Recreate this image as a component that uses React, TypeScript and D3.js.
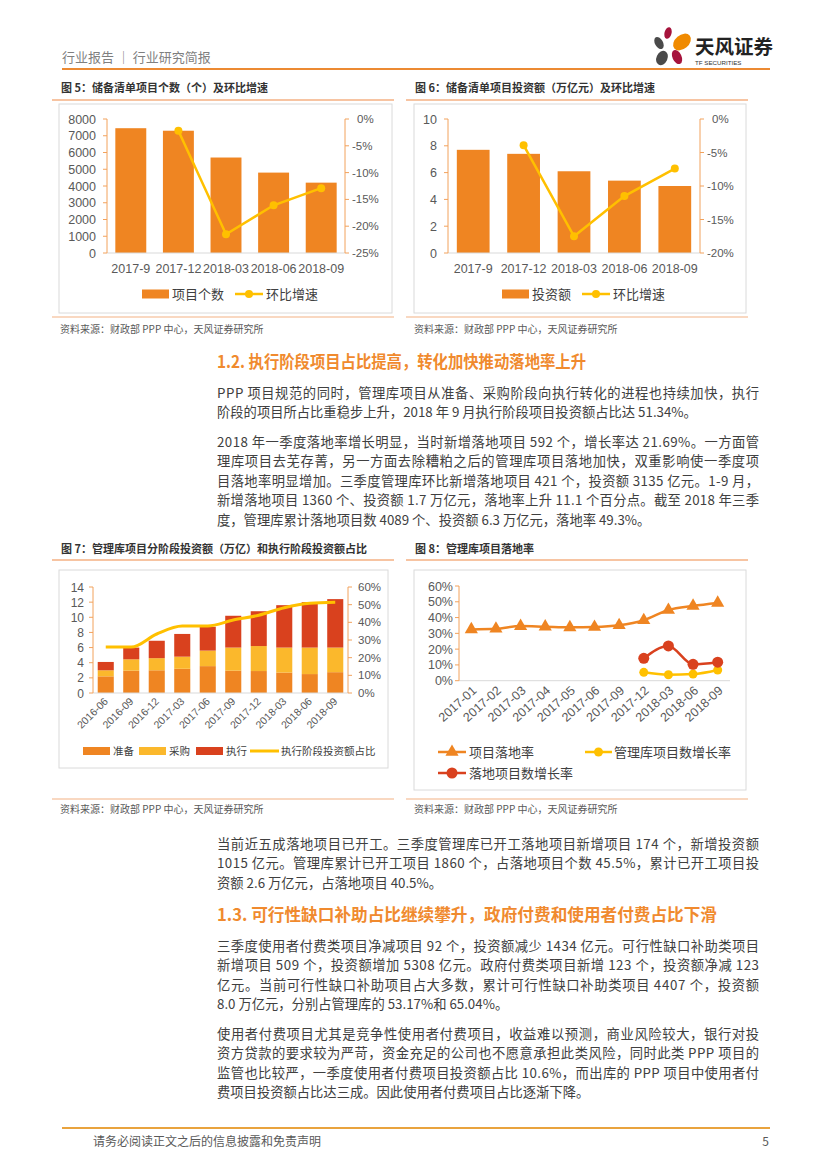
import React from 'react';
import * as d3 from 'd3';

// ---------- DATA ----------
const cats5 = ['2017-9', '2017-12', '2018-03', '2018-06', '2018-09'];
const count5 = [7450, 7300, 5700, 4800, 4200];
const growth5: (number | null)[] = [null, -2.2, -21.5, -16.1, -12.9];
const leftTicks5 = [0, 1000, 2000, 3000, 4000, 5000, 6000, 7000, 8000];
const rightTicks5 = [0, -5, -10, -15, -20, -25];

const cats6 = ['2017-9', '2017-12', '2018-03', '2018-06', '2018-09'];
const invest6 = [7.7, 7.4, 6.1, 5.4, 5.0];
const growth6: (number | null)[] = [null, -3.9, -17.5, -11.5, -7.4];
const leftTicks6 = [0, 2, 4, 6, 8, 10];
const rightTicks6 = [0, -5, -10, -15, -20];

const cats7 = ['2016-06', '2016-09', '2016-12', '2017-03', '2017-06', '2017-09', '2017-12', '2018-03', '2018-06', '2018-09'];
const prep7 = [2.2, 2.95, 3.0, 3.2, 3.55, 2.95, 2.9, 2.7, 2.5, 2.75];
const proc7 = [0.8, 1.5, 1.6, 1.6, 2.05, 3.05, 3.3, 3.3, 3.5, 3.25];
const exec7 = [1.1, 1.55, 2.3, 3.0, 3.15, 4.2, 4.6, 5.6, 6.0, 6.4];
const share7 = [26, 26, 33.4, 37.9, 37.9, 41.3, 44, 48.3, 50.8, 51.34];
const leftTicks7 = [0, 2, 4, 6, 8, 10, 12, 14];
const rightTicks7 = [0, 10, 20, 30, 40, 50, 60];

const cats8 = ['2017-01', '2017-02', '2017-03', '2017-04', '2017-05', '2017-06', '2017-09', '2017-12', '2018-03', '2018-06', '2018-09'];
const landing8 = [32.5, 32.9, 34.6, 34.2, 33.8, 34.0, 35.1, 38.3, 44.8, 47.4, 49.3];
const libGrowth8: (number | null)[] = [null, null, null, null, null, null, null, 5.3, 3.8, 4.2, 6.8];
const landGrowth8: (number | null)[] = [null, null, null, null, null, null, null, 14.2, 22.0, 10.4, 11.7];
const ticks8 = [0, 10, 20, 30, 40, 50, 60];

// ---------- STYLE ----------
const FONT = '"Noto Sans CJK SC", "Noto Sans", sans-serif';
const NUM = '"Liberation Sans", Arial, sans-serif';
const ORANGE = '#EF8522';
const YELLOW = '#FBB82C';
const RED = '#D9411E';
const LINEY = '#FFC000';
const AXIS = '#F2A25C';
const TICKTXT = '#595959';
const TXT = '#404040';
const HEAD = '#F08A2E';

type DualProps = {
  cats: string[]; bars: number[]; line: (number | null)[];
  x0: number; x1: number; yTop: number; yBot: number;
  leftMax: number; leftTicks: number[]; rightMin: number; rightTicks: number[];
  barLabel: string; lineLabel: string; legY: number; legBarX: number; legLineX: number;
};

function DualChart(p: DualProps) {
  const x = d3.scaleBand<string>().domain(p.cats).range([p.x0, p.x1]).paddingInner(0.35).paddingOuter(0.175);
  const yl = d3.scaleLinear().domain([0, p.leftMax]).range([p.yBot, p.yTop]);
  const yr = d3.scaleLinear().domain([p.rightMin, 0]).range([p.yBot, p.yTop]);
  const pts: [number, number][] = [];
  p.cats.forEach((c, i) => {
    const v = p.line[i];
    if (v != null) pts.push([(x(c) as number) + x.bandwidth() / 2, yr(v)]);
  });
  const path = d3.line()(pts) || '';
  return (
    <g fontFamily={FONT}>
      {p.cats.map((c, i) => (
        <rect key={c} x={x(c)} y={yl(p.bars[i])} width={x.bandwidth()} height={p.yBot - yl(p.bars[i])} fill={ORANGE} />
      ))}
      <line x1={p.x0} x2={p.x1} y1={p.yBot} y2={p.yBot} stroke="#D9D9D9" strokeWidth={1} />
      <line x1={p.x0} x2={p.x0} y1={p.yTop} y2={p.yBot} stroke={AXIS} strokeWidth={1} />
      {p.leftTicks.map((t) => (
        <g key={'l' + t}>
          <line x1={p.x0 - 4} x2={p.x0} y1={yl(t)} y2={yl(t)} stroke={AXIS} />
          <text x={p.x0 - 11} y={yl(t) + 4.5} textAnchor="end" fontFamily={NUM} fontSize={12.5} fill={TICKTXT}>{t}</text>
        </g>
      ))}
      <line x1={p.x1} x2={p.x1} y1={p.yTop} y2={p.yBot} stroke={AXIS} strokeWidth={1} />
      {p.rightTicks.map((t) => (
        <g key={'r' + t}>
          <line x1={p.x1} x2={p.x1 + 4} y1={yr(t)} y2={yr(t)} stroke={AXIS} />
          <text x={p.x1 + (t === 0 ? 12 : 7)} y={yr(t) + 4} fontFamily={NUM} fontSize={11.5} fill={TICKTXT}>{t === 0 ? '0%' : '-' + Math.abs(t) + '%'}</text>
        </g>
      ))}
      {p.cats.map((c) => (
        <text key={'x' + c} x={(x(c) as number) + x.bandwidth() / 2} y={p.yBot + 20} textAnchor="middle" fontFamily={NUM} fontSize={12.5} fill={TICKTXT}>{c}</text>
      ))}
      <path d={path} fill="none" stroke={LINEY} strokeWidth={2.5} />
      {pts.map((pt, i) => <circle key={'m' + i} cx={pt[0]} cy={pt[1]} r={4} fill={LINEY} />)}
      <rect x={p.legBarX} y={p.legY - 4.5} width={27} height={9} fill={ORANGE} />
      <text x={p.legBarX + 30} y={p.legY + 5} fontSize={13} fill={TXT}>{p.barLabel}</text>
      <line x1={p.legLineX} x2={p.legLineX + 28} y1={p.legY} y2={p.legY} stroke={LINEY} strokeWidth={2.5} />
      <circle cx={p.legLineX + 14} cy={p.legY} r={4} fill={LINEY} />
      <text x={p.legLineX + 31} y={p.legY + 5} fontSize={13} fill={TXT}>{p.lineLabel}</text>
    </g>
  );
}

function Chart7() {
  const x0 = 93, x1 = 348, yTop = 587, yBot = 693;
  const x = d3.scaleBand<string>().domain(cats7).range([x0, x1]).paddingInner(0.37).paddingOuter(0.185);
  const yl = d3.scaleLinear().domain([0, 14]).range([yBot, yTop]);
  const yr = d3.scaleLinear().domain([0, 60]).range([yBot, yTop]);
  const rows = cats7.map((c, i) => ({ cat: c, prep: prep7[i], proc: proc7[i], exec: exec7[i] }));
  const keys = ['prep', 'proc', 'exec'];
  const colors: Record<string, string> = { prep: ORANGE, proc: YELLOW, exec: RED };
  const stacked = d3.stack<any>().keys(keys)(rows);
  const line = d3.line<number>()
    .x((_, i) => (x(cats7[i]) as number) + x.bandwidth() / 2)
    .y((d) => yr(d))
    .curve(d3.curveMonotoneX);
  const legend = [
    { k: 'prep', label: '准备', x: 83 },
    { k: 'proc', label: '采购', x: 139 },
    { k: 'exec', label: '执行', x: 196 },
  ];
  const ly = 751;
  return (
    <g fontFamily={FONT}>
      {stacked.map((s) => (
        <g key={s.key} fill={colors[s.key]}>
          {s.map((d, i) => (
            <rect key={i} x={x(cats7[i])} y={yl(d[1])} width={x.bandwidth()} height={yl(d[0]) - yl(d[1])} />
          ))}
        </g>
      ))}
      <line x1={x0} x2={x1} y1={yBot} y2={yBot} stroke="#D9D9D9" />
      <line x1={x0} x2={x0} y1={yTop} y2={yBot} stroke={AXIS} />
      {leftTicks7.map((t) => (
        <g key={'l' + t}>
          <line x1={x0 - 4} x2={x0} y1={yl(t)} y2={yl(t)} stroke={AXIS} />
          <text x={x0 - 9} y={yl(t) + 4.5} textAnchor="end" fontFamily={NUM} fontSize={12} fill={TICKTXT}>{t}</text>
        </g>
      ))}
      <line x1={x1} x2={x1} y1={yTop} y2={yBot} stroke={AXIS} />
      {rightTicks7.map((t) => (
        <g key={'r' + t}>
          <line x1={x1} x2={x1 + 4} y1={yr(t)} y2={yr(t)} stroke={AXIS} />
          <text x={x1 + 10} y={yr(t) + 4} fontFamily={NUM} fontSize={11.5} fill={TICKTXT}>{t + '%'}</text>
        </g>
      ))}
      {cats7.map((c) => {
        const cx = (x(c) as number) + x.bandwidth() / 2 + 3;
        return (
          <text key={'x' + c} transform={`translate(${cx},${yBot + 9}) rotate(-45)`} textAnchor="end" fontFamily={NUM} fontSize={10.5} fill={TICKTXT}>{c}</text>
        );
      })}
      <path d={line(share7) || ''} fill="none" stroke={LINEY} strokeWidth={3} />
      {legend.map((l) => (
        <g key={l.k}>
          <rect x={l.x} y={ly - 4} width={27} height={8} fill={colors[l.k]} />
          <text x={l.x + 30} y={ly + 4} fontSize={10.5} fill={TXT}>{l.label}</text>
        </g>
      ))}
      <line x1={250} x2={279} y1={ly} y2={ly} stroke={LINEY} strokeWidth={3} />
      <text x={281} y={ly + 4} fontSize={10.5} fill={TXT}>执行阶段投资额占比</text>
    </g>
  );
}

function Chart8() {
  const x0 = 459, x1 = 730, yTop = 586, yBot = 680.7;
  const x = d3.scalePoint<string>().domain(cats8).range([x0, x1]).padding(0.5);
  const y = d3.scaleLinear().domain([0, 60]).range([yBot, yTop]);
  const mk = (vals: (number | null)[]) => {
    const pts: [number, number][] = [];
    cats8.forEach((c, i) => { const v = vals[i]; if (v != null) pts.push([x(c) as number, y(v)]); });
    return pts;
  };
  const curve = d3.line().curve(d3.curveMonotoneX);
  const pL = mk(landing8), pY = mk(libGrowth8), pR = mk(landGrowth8);
  const tri = d3.symbol().type(d3.symbolTriangle).size(75)() || '';
  const l1 = 752, l2 = 773;
  return (
    <g fontFamily={FONT}>
      <line x1={x0} x2={x1} y1={yBot} y2={yBot} stroke="#D9D9D9" />
      <line x1={x0} x2={x0} y1={yTop} y2={yBot} stroke={AXIS} />
      {ticks8.map((t) => (
        <g key={'t' + t}>
          <line x1={x0 - 4} x2={x0} y1={y(t)} y2={y(t)} stroke={AXIS} />
          <text x={x0 - 6} y={y(t) + 4.5} textAnchor="end" fontFamily={NUM} fontSize={12.5} fill={TICKTXT}>{t + '%'}</text>
        </g>
      ))}
      {cats8.map((c) => (
        <text key={'x' + c} transform={`translate(${(x(c) as number) + 6},${yBot + 11}) rotate(-42)`} textAnchor="end" fontFamily={NUM} fontSize={12.5} fill={TICKTXT}>{c}</text>
      ))}
      <path d={curve(pL) || ''} fill="none" stroke={ORANGE} strokeWidth={2.5} />
      {pL.map((pt, i) => <path key={'a' + i} d={tri} transform={`translate(${pt[0]},${pt[1]})`} fill={ORANGE} />)}
      <path d={curve(pY) || ''} fill="none" stroke={LINEY} strokeWidth={2.5} />
      {pY.map((pt, i) => <circle key={'b' + i} cx={pt[0]} cy={pt[1]} r={4.5} fill={LINEY} />)}
      <path d={curve(pR) || ''} fill="none" stroke={RED} strokeWidth={2.5} />
      {pR.map((pt, i) => <circle key={'c' + i} cx={pt[0]} cy={pt[1]} r={5.5} fill={RED} />)}
      <line x1={438} x2={466} y1={l1} y2={l1} stroke={ORANGE} strokeWidth={2.5} />
      <path d={tri} transform={`translate(452,${l1})`} fill={ORANGE} />
      <text x={469} y={l1 + 5} fontSize={13} fill={TXT}>项目落地率</text>
      <line x1={585} x2={612} y1={l1} y2={l1} stroke={LINEY} strokeWidth={2.5} />
      <circle cx={598.5} cy={l1} r={4.5} fill={LINEY} />
      <text x={614} y={l1 + 5} fontSize={13} fill={TXT}>管理库项目数增长率</text>
      <line x1={438} x2={466} y1={l2} y2={l2} stroke={RED} strokeWidth={2.5} />
      <circle cx={452} cy={l2} r={5.5} fill={RED} />
      <text x={469} y={l2 + 5} fontSize={13} fill={TXT}>落地项目数增长率</text>
    </g>
  );
}

// ---------- TEXT ----------
const para1 = [
  'PPP 项目规范的同时，管理库项目从准备、采购阶段向执行转化的进程也持续加快，执行',
  '阶段的项目所占比重稳步上升，2018 年 9 月执行阶段项目投资额占比达 51.34%。',
];
const para2 = [
  '2018 年一季度落地率增长明显，当时新增落地项目 592 个，增长率达 21.69%。一方面管',
  '理库项目去芜存菁，另一方面去除糟粕之后的管理库项目落地加快，双重影响使一季度项',
  '目落地率明显增加。三季度管理库环比新增落地项目 421 个，投资额 3135 亿元。1-9 月，',
  '新增落地项目 1360 个、投资额 1.7 万亿元，落地率上升 11.1 个百分点。截至 2018 年三季',
  '度，管理库累计落地项目数 4089 个、投资额 6.3 万亿元，落地率 49.3%。',
];
const para3 = [
  '当前近五成落地项目已开工。三季度管理库已开工落地项目新增项目 174 个，新增投资额',
  '1015 亿元。管理库累计已开工项目 1860 个，占落地项目个数 45.5%，累计已开工项目投',
  '资额 2.6 万亿元，占落地项目 40.5%。',
];
const para4 = [
  '三季度使用者付费类项目净减项目 92 个，投资额减少 1434 亿元。可行性缺口补助类项目',
  '新增项目 509 个，投资额增加 5308 亿元。政府付费类项目新增 123 个，投资额净减 123',
  '亿元。当前可行性缺口补助项目占大多数，累计可行性缺口补助类项目 4407 个，投资额',
  '8.0 万亿元，分别占管理库的 53.17%和 65.04%。',
];
const para5 = [
  '使用者付费项目尤其是竞争性使用者付费项目，收益难以预测，商业风险较大，银行对投',
  '资方贷款的要求较为严苛，资金充足的公司也不愿意承担此类风险，同时此类 PPP 项目的',
  '监管也比较严，一季度使用者付费项目投资额占比 10.6%，而出库的 PPP 项目中使用者付',
  '费项目投资额占比达三成。因此使用者付费项目占比逐渐下降。',
];

function Para({ lines, y0 }: { lines: string[]; y0: number }) {
  return (
    <g fontFamily={FONT} fontSize={13.3} fill={TXT}>
      {lines.map((l, i) => {
        const last = i === lines.length - 1;
        return (
          <text key={i} x={217} y={y0 + i * 19.5 + 4.8} {...(last ? {} : { textLength: 542, lengthAdjust: 'spacing' })}>{l}</text>
        );
      })}
    </g>
  );
}

function Frame({ x, title, titleY, lineY, boxTop, boxBot, boxX0, boxX1, srcLineY }: any) {
  return (
    <g fontFamily={FONT}>
      <text x={x} y={titleY + 4} fontSize={11} fontWeight="bold" fill="#333">{title}</text>
      <line x1={x - 9} x2={x + 333} y1={lineY} y2={lineY} stroke="#F4B183" strokeWidth={1.5} />
      <rect x={boxX0} y={boxTop} width={boxX1 - boxX0} height={boxBot - boxTop} fill="#fff" stroke="#DADADA" strokeWidth={1} />
      <line x1={x - 9} x2={x + 333} y1={srcLineY} y2={srcLineY} stroke="#F4B183" strokeWidth={1.2} />
    </g>
  );
}

function Logo() {
  return (
    <g>
      <ellipse cx={668} cy={33} rx={3.5} ry={6} fill="#A6133C" transform="rotate(15 668 33)" />
      <ellipse cx={682} cy={42} rx={7} ry={10} fill="#F08A00" transform="rotate(50 682 42)" />
      <ellipse cx={659} cy={43} rx={4} ry={6.5} fill="#4A4A4A" transform="rotate(-30 659 43)" />
      <ellipse cx={677} cy={57} rx={4.5} ry={7.5} fill="#A6133C" transform="rotate(-25 677 57)" />
      <ellipse cx={662} cy={58} rx={5.5} ry={7.5} fill="#4A4A4A" transform="rotate(25 662 58)" />
      <text x={695} y={54} fontFamily={FONT} fontSize={19.5} fontWeight="bold" fill="#222">天风证券</text>
      <text x={695} y={65} fontFamily={NUM} fontSize={6.2} fill="#333">TF SECURITIES</text>
    </g>
  );
}

export default function App() {
  return (
    <svg width={827} height={1169} viewBox="0 0 827 1169" style={{ position: 'absolute', left: 0, top: 0, background: '#fff' }}>
      <rect x={0} y={0} width={827} height={1169} fill="#fff" />
      {/* header */}
      <text x={62} y={62} fontFamily={FONT} fontSize={13} fill="#7F7F7F">行业报告 ｜ 行业研究简报</text>
      <Logo />
      <line x1={62} x2={770} y1={69} y2={69} stroke="#EC8A33" strokeWidth={2} />

      {/* figure 5 & 6 */}
      <Frame x={61} title="图 5：储备清单项目个数（个）及环比增速" titleY={88} lineY={100} boxTop={104} boxBot={313} boxX0={59} boxX1={392} srcLineY={317} />
      <Frame x={415} title="图 6：储备清单项目投资额（万亿元）及环比增速" titleY={88} lineY={100} boxTop={104} boxBot={313} boxX0={414} boxX1={746} srcLineY={317} />
      <DualChart cats={cats5} bars={count5} line={growth5} x0={107} x1={345} yTop={119} yBot={253}
        leftMax={8000} leftTicks={leftTicks5} rightMin={-25} rightTicks={rightTicks5}
        barLabel="项目个数" lineLabel="环比增速" legY={294} legBarX={142} legLineX={235} />
      <DualChart cats={cats6} bars={invest6} line={growth6} x0={448} x1={700} yTop={119} yBot={253}
        leftMax={10} leftTicks={leftTicks6} rightMin={-20} rightTicks={rightTicks6}
        barLabel="投资额" lineLabel="环比增速" legY={294} legBarX={502} legLineX={582} />
      <text x={60} y={333} fontFamily={FONT} fontSize={10} fill={TICKTXT}>资料来源：财政部 PPP 中心，天风证券研究所</text>
      <text x={414} y={333} fontFamily={FONT} fontSize={10} fill={TICKTXT}>资料来源：财政部 PPP 中心，天风证券研究所</text>

      {/* section 1.2 */}
      <text x={217} y={368} fontFamily={FONT} fontSize={16.5} fontWeight="bold" fill={HEAD} textLength={369} lengthAdjust="spacingAndGlyphs">1.2. 执行阶段项目占比提高，转化加快推动落地率上升</text>
      <Para lines={para1} y0={392.7} />
      <Para lines={para2} y0={441.7} />

      {/* figure 7 & 8 */}
      <Frame x={61} title="图 7：管理库项目分阶段投资额（万亿）和执行阶段投资额占比" titleY={549} lineY={560} boxTop={570} boxBot={768} boxX0={59} boxX1={388} srcLineY={799} />
      <Frame x={415} title="图 8：管理库项目落地率" titleY={549} lineY={560} boxTop={570} boxBot={790} boxX0={414} boxX1={746} srcLineY={799} />
      <Chart7 />
      <Chart8 />
      <text x={60} y={813} fontFamily={FONT} fontSize={10} fill={TICKTXT}>资料来源：财政部 PPP 中心，天风证券研究所</text>
      <text x={414} y={813} fontFamily={FONT} fontSize={10} fill={TICKTXT}>资料来源：财政部 PPP 中心，天风证券研究所</text>

      <Para lines={para3} y0={844} />
      <text x={217} y={921} fontFamily={FONT} fontSize={16.5} fontWeight="bold" fill={HEAD} textLength={500} lengthAdjust="spacingAndGlyphs">1.3. 可行性缺口补助占比继续攀升，政府付费和使用者付费占比下滑</text>
      <Para lines={para4} y0={946} />
      <Para lines={para5} y0={1034} />

      {/* footer */}
      <line x1={62} x2={770} y1={1128} y2={1128} stroke="#E9A33E" strokeWidth={2} />
      <text x={93} y={1146} fontFamily={FONT} fontSize={12} fill="#595959">请务必阅读正文之后的信息披露和免责声明</text>
      <text x={769} y={1146} textAnchor="end" fontFamily={FONT} fontSize={12} fill="#595959">5</text>
    </svg>
  );
}
